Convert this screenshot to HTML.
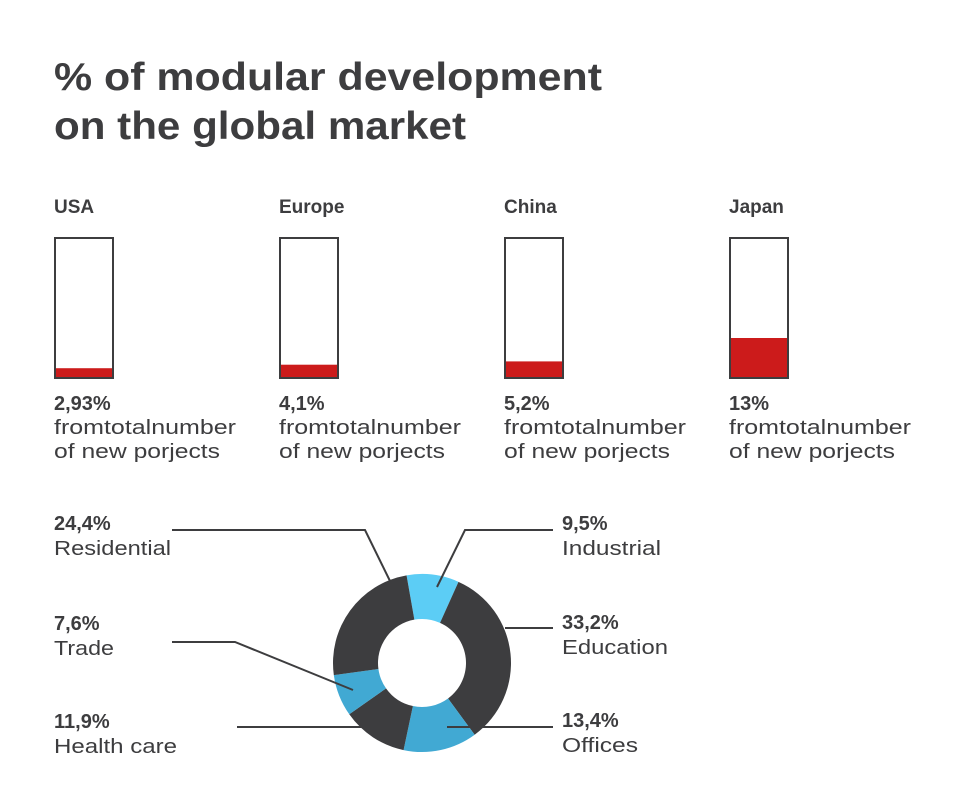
<!DOCTYPE html>
<html><head><meta charset="utf-8"><style>
html,body{margin:0;padding:0;background:#fff;}
svg{display:block;font-family:"Liberation Sans",sans-serif;}
</style></head><body>
<svg id="chart" width="980" height="811" viewBox="0 0 980 811">
<text x="54" y="90" font-size="39" font-weight="bold" fill="#3d3d3f" textLength="548" lengthAdjust="spacingAndGlyphs">%  of modular development</text>
<text x="54" y="139" font-size="39" font-weight="bold" fill="#3d3d3f" textLength="412" lengthAdjust="spacingAndGlyphs">on the global market</text>
<g id="bars"></g>
<g id="donut"></g>
<g id="labels"></g>
</svg>
<script>
const regions = ["USA","Europe","China","Japan"];
const regionValues = [2.93, 4.1, 5.2, 13];
const regionLabels = ["2,93%","4,1%","5,2%","13%"];
const segments = ["Industrial","Education","Offices","Health care","Trade","Residential"];
const segmentValues = [9.5, 33.2, 13.4, 11.9, 7.6, 24.4];
const segmentLabels = ["9,5%","33,2%","13,4%","11,9%","7,6%","24,4%"];

const NS="http://www.w3.org/2000/svg";
function mk(tag, attrs, parent){const e=document.createElementNS(NS,tag);for(const k in attrs)e.setAttribute(k,attrs[k]);parent.appendChild(e);return e;}
const dark="#3d3d3f";

const boxTop=238, boxBottom=378, boxH=boxBottom-boxTop;
function yScale(v){return v*3;}
const bars=document.getElementById('bars');
regions.forEach((r,i)=>{
  const x0=54+i*225;
  const t=mk('text',{x:x0,y:213,'font-size':19,'font-weight':'bold',fill:dark},bars);t.textContent=r;
  
  
  const box=mk('rect',{x:x0+1,y:boxTop,width:58,height:boxH,fill:'#fff',stroke:dark,'stroke-width':2},bars);
  
  
  const h=yScale(regionValues[i]);
  const f=mk('rect',{x:x0+2,y:boxBottom-1-h,width:56,height:h,fill:'#cc1b1b'},bars);
  
  
  const v=mk('text',{x:x0,y:410,'font-size':20,'font-weight':'bold',fill:dark},bars);v.textContent=regionLabels[i];
  
  
  const l1=mk('text',{x:x0,y:434,'font-size':20,fill:dark,textLength:182,lengthAdjust:'spacingAndGlyphs'},bars);l1.textContent="fromtotalnumber";
  
  
  const l2=mk('text',{x:x0,y:458,'font-size':20,fill:dark,textLength:166,lengthAdjust:'spacingAndGlyphs'},bars);l2.textContent="of new porjects";
  
  
});

const cx=422, cy=663, R=89, r0=44, startDeg=-10;
const colors=["#5ccdf5",dark,"#41a9d3",dark,"#41a9d3",dark];
const total=segmentValues.reduce((a,b)=>a+b,0);
const donut=document.getElementById('donut');
function pt(deg,rad){const a=(deg-90)*Math.PI/180;return [cx+rad*Math.cos(a),cy+rad*Math.sin(a)];}
let acc=startDeg;
segmentValues.forEach((v,i)=>{
  const sweep=v/total*360, a0=acc, a1=acc+sweep; acc=a1;
  const large=sweep>180?1:0;
  const p0=pt(a0,R),p1=pt(a1,R),q1=pt(a1,r0),q0=pt(a0,r0);
  const d=`M${p0[0]},${p0[1]}A${R},${R} 0 ${large} 1 ${p1[0]},${p1[1]}L${q1[0]},${q1[1]}A${r0},${r0} 0 ${large} 0 ${q0[0]},${q0[1]}Z`;
  const p=mk('path',{d:d,fill:colors[i]},donut);
  
  
});

const lab=document.getElementById('labels');
const labelPos=[[562,530,99,'M553,530 L465,530 L437,587'],[562,629,106,'M505,628 L553,628'],[562,727,76,'M447,727 L553,727'],[54,728,123,'M237,727 L362,727'],[54,630,60,'M172,642 L235,642 L353,690'],[54,530,117,'M172,530 L365,530 L390,581']];
segments.forEach((s,i)=>{
  const [x,y,w,path]=labelPos[i];
  const ln=mk('path',{d:path,fill:'none',stroke:dark,'stroke-width':2},lab);
  
  
  const v=mk('text',{x:x,y:y,'font-size':20,'font-weight':'bold',fill:dark},lab);v.textContent=segmentLabels[i];
  
  
  const n=mk('text',{x:x,y:y+25,'font-size':20,fill:dark,textLength:w,lengthAdjust:'spacingAndGlyphs'},lab);n.textContent=s;
  
  
});
</script>
</body></html>
